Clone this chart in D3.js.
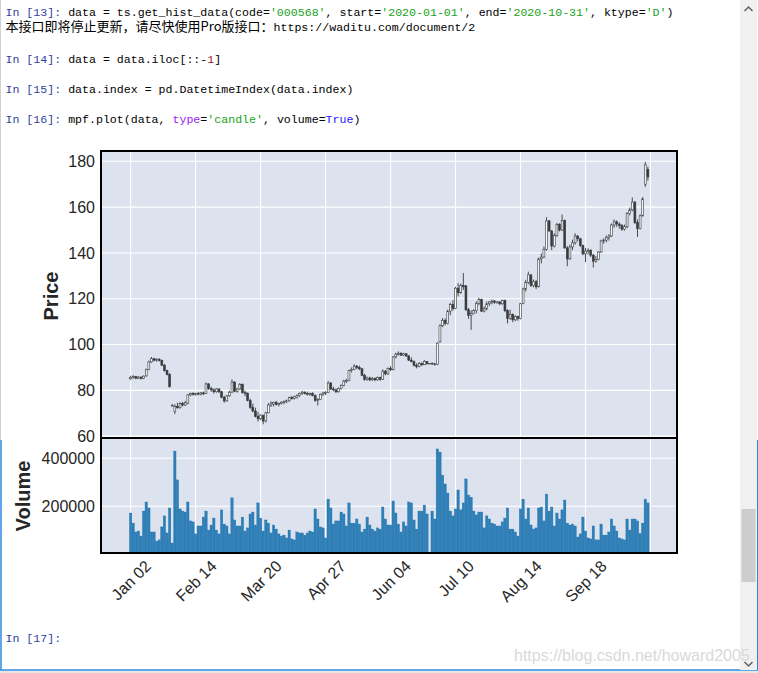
<!DOCTYPE html>
<html>
<head>
<meta charset="utf-8">
<script src="https://cdn.jsdelivr.net/npm/d3@7"></script>
<style>
  body { margin: 0; background: #fff; }
  svg { display: block; }
  text { white-space: pre; }
</style>
</head>
<body>
<svg id="nb" width="758" height="673"></svg>
<script>
// ---- data (000568, 2020-01-02 .. 2020-10-30) ----
const openP = [85.0,85.6,86.0,85.3,85.8,85.2,86.3,89.2,92.4,93.8,
  93.2,93.6,93.0,91.0,88.6,87.0,73.4,70.8,73.0,72.4,
  74.2,73.6,74.4,78.0,78.6,78.2,78.6,78.4,78.9,78.6,
  82.8,80.8,80.2,79.4,80.6,79.4,77.0,75.4,77.6,79.2,
  83.6,79.6,80.6,82.6,79.0,78.8,75.6,72.6,71.0,68.6,
  67.6,69.0,66.6,70.2,73.6,74.0,74.8,73.8,74.2,74.8,
  75.2,75.4,76.8,76.4,76.8,77.8,78.6,79.2,78.6,78.2,
  78.6,77.8,75.6,76.0,78.2,78.8,79.0,83.2,80.6,80.2,
  79.4,80.8,82.2,84.0,84.4,88.6,89.2,90.6,90.0,89.4,
  86.6,84.8,85.4,84.6,85.2,84.6,85.6,84.8,88.4,87.2,
  89.6,89.0,94.6,95.8,96.2,95.4,96.0,95.0,93.2,92.6,
  91.0,90.4,91.8,91.2,92.6,91.8,91.8,91.6,91.4,101.2,
  108.2,110.6,109.2,114.6,117.4,115.8,124.6,122.6,125.8,125.6,
  115.2,112.8,113.6,114.8,118.0,119.6,114.6,115.6,117.8,118.6,
  119.0,118.4,118.6,117.8,119.2,114.8,111.4,113.2,110.8,112.2,
  111.4,118.0,124.2,127.2,130.4,125.8,127.4,125.2,137.4,138.2,
  141.6,154.0,149.6,143.0,147.6,152.4,150.0,154.2,142.2,137.4,
  142.6,144.4,147.4,146.2,143.2,139.6,140.8,141.2,139.0,136.4,
  137.2,140.4,145.2,145.6,146.8,147.4,152.2,153.6,152.6,152.0,
  150.4,151.4,157.2,158.8,162.2,153.2,150.6,156.2,170.0,176.4];

const highP = [86.4,86.6,86.3,86.2,86.0,86.5,89.5,93.0,94.6,94.2,
  94.0,94.0,93.4,91.5,89.0,87.6,74.0,74.0,74.6,74.8,
  75.0,75.4,78.4,79.0,79.2,79.0,79.3,79.2,79.4,83.4,
  83.2,81.6,80.8,81.0,81.0,79.8,77.6,78.0,79.8,84.8,
  84.0,81.0,83.2,83.0,80.0,79.0,76.4,74.2,72.4,70.6,
  69.6,69.4,70.6,74.4,75.2,75.0,75.4,74.6,75.2,75.6,
  76.0,77.2,77.6,77.6,78.2,79.0,79.8,79.6,79.4,79.0,
  79.2,78.2,76.6,78.6,79.4,79.6,84.0,83.6,81.6,80.8,
  81.2,82.6,84.6,85.0,89.0,90.0,91.4,91.0,90.8,89.8,
  87.2,86.0,86.0,85.8,85.6,86.0,86.0,89.2,88.8,90.0,
  90.6,95.0,96.4,97.0,96.6,96.4,96.2,95.4,94.4,93.0,
  91.8,92.4,92.2,93.2,92.8,91.8,92.2,92.0,101.0,108.8,
  111.6,111.4,115.2,118.2,119.4,125.2,126.8,126.6,131.2,126.0,
  116.0,115.0,115.4,118.8,120.4,120.0,116.6,118.8,119.0,119.6,
  119.4,119.0,119.0,119.6,119.6,115.4,115.2,113.6,112.8,112.6,
  118.2,124.8,128.2,131.8,130.8,128.4,128.2,138.0,139.8,142.8,
  155.6,154.4,150.0,148.6,153.2,153.0,156.8,154.6,143.0,143.6,
  145.8,148.6,147.8,146.6,143.6,142.2,142.0,141.6,139.6,138.6,
  140.8,145.8,146.4,147.6,148.2,152.8,154.6,154.2,153.4,152.6,
  152.4,157.8,159.8,164.2,162.6,154.6,156.8,164.4,179.8,177.6];

const lowP = [84.6,85.0,84.9,85.0,84.8,84.9,86.0,88.8,92.0,92.6,
  92.5,92.6,90.6,88.2,86.5,81.2,73.4,69.6,72.0,72.0,
  73.0,73.2,74.0,77.4,77.8,77.6,77.9,77.8,77.9,78.4,
  80.2,79.4,78.6,79.0,78.8,76.6,74.6,75.0,77.2,79.0,
  79.2,79.0,80.2,78.6,77.4,75.2,72.0,70.4,68.2,66.4,
  67.0,65.2,66.0,70.0,72.8,73.0,73.4,73.0,73.8,74.0,
  74.4,75.0,76.0,76.0,76.4,77.2,78.0,78.2,77.8,77.6,
  77.4,75.0,73.4,75.8,77.6,78.0,78.8,80.2,79.6,78.8,
  79.0,80.4,81.8,83.2,84.0,87.8,88.8,89.2,88.8,86.2,
  84.2,84.2,84.0,84.2,84.0,84.2,84.2,84.6,86.6,86.8,
  88.4,88.8,94.0,95.2,95.0,95.0,94.6,92.8,92.2,90.4,
  89.6,90.0,90.6,91.0,91.2,91.8,91.2,90.8,91.0,100.8,
  107.6,108.4,108.8,112.8,114.8,115.4,121.0,122.2,123.8,114.6,
  111.2,106.4,113.2,113.6,117.2,114.2,114.0,115.0,116.8,117.6,
  117.8,117.8,117.2,117.4,114.2,109.2,110.8,109.8,110.2,110.4,
  111.0,117.6,123.2,126.4,125.2,125.0,124.2,125.0,135.4,137.8,
  141.0,149.2,141.2,142.4,147.0,149.4,149.6,141.8,134.2,137.0,
  141.2,143.6,145.0,142.6,139.0,136.0,139.4,138.2,133.6,135.8,
  136.8,140.0,144.0,144.6,145.4,147.0,151.0,151.4,150.6,149.6,
  149.8,150.8,156.4,158.2,152.6,147.0,150.2,155.8,168.8,171.6];

const closeP = [85.6,86.0,85.3,85.8,85.2,86.2,89.2,92.4,93.8,93.2,
  93.6,93.0,91.0,88.6,87.0,81.6,73.4,73.0,72.4,74.2,
  73.6,74.6,78.0,78.6,78.2,78.6,78.4,78.9,78.5,82.8,
  80.8,80.2,79.4,80.6,79.4,77.0,75.4,77.6,79.2,83.6,
  79.6,80.6,82.6,79.0,78.8,75.6,72.6,71.0,68.6,67.6,
  69.2,66.6,70.2,73.6,74.4,74.8,73.8,74.2,74.8,75.2,
  75.4,76.8,76.4,77.2,77.8,78.6,79.2,78.6,78.2,78.6,
  77.8,75.6,76.0,78.2,78.8,79.0,83.2,80.6,80.2,79.4,
  80.8,82.2,84.0,84.4,88.6,89.2,90.6,90.0,89.4,86.6,
  84.8,85.4,84.6,85.2,84.6,85.6,84.8,88.4,87.2,89.6,
  89.0,94.6,95.8,96.2,95.4,96.0,95.0,93.2,92.6,91.0,
  90.4,91.8,91.2,92.6,91.8,91.8,91.6,91.4,100.6,108.2,
  110.6,109.2,114.6,117.4,115.8,124.6,122.6,125.8,125.2,115.2,
  112.8,113.6,114.8,118.0,119.6,114.6,115.6,117.8,118.6,119.0,
  118.4,118.6,117.8,119.2,114.8,111.4,113.2,110.8,112.2,111.4,
  117.8,124.2,127.2,130.4,125.8,127.4,125.2,137.4,138.2,141.6,
  154.0,149.6,143.0,147.6,152.4,150.0,154.2,142.2,137.4,142.6,
  144.4,147.4,146.2,143.2,139.6,140.8,141.2,139.0,136.4,137.2,
  140.4,145.2,145.6,146.8,147.4,152.2,153.6,152.6,152.0,150.4,
  151.4,157.2,158.8,162.2,153.2,150.6,156.2,163.6,178.4,173.2];

const volume = [172000,130000,93000,97000,76000,180000,218000,193000,93000,93000,
  55000,60000,114000,160000,89000,193000,47000,430000,310000,189000,
  180000,176000,218000,139000,135000,85000,118000,118000,155000,180000,
  101000,122000,151000,101000,85000,185000,126000,118000,85000,235000,
  143000,118000,118000,155000,97000,110000,168000,176000,122000,214000,
  151000,97000,143000,130000,89000,122000,105000,85000,76000,80000,
  68000,101000,64000,60000,93000,89000,89000,80000,89000,97000,
  93000,189000,147000,114000,110000,68000,230000,193000,126000,139000,
  139000,176000,168000,118000,214000,130000,130000,147000,126000,93000,
  105000,155000,122000,105000,97000,110000,105000,197000,147000,122000,
  122000,222000,172000,126000,93000,135000,118000,218000,214000,143000,
  105000,180000,180000,205000,168000,0,180000,147000,439000,426000,
  330000,293000,255000,180000,160000,189000,268000,185000,214000,314000,
  247000,238000,180000,164000,176000,176000,110000,160000,147000,130000,
  126000,118000,118000,135000,151000,193000,105000,105000,93000,76000,
  189000,230000,147000,193000,122000,105000,110000,193000,197000,139000,
  251000,180000,197000,118000,172000,147000,185000,226000,130000,122000,
  126000,118000,72000,85000,155000,97000,68000,64000,118000,60000,
  60000,126000,80000,80000,93000,147000,118000,97000,68000,64000,
  60000,147000,101000,147000,147000,139000,87000,130000,230000,214000];

const xTickIdx = [0, 25, 50, 75, 100, 125, 150, 175, 200];
const xTickLabels = ["Jan 02", "Feb 14", "Mar 20", "Apr 27", "Jun 04", "Jul 10", "Aug 14", "Sep 18", ""];
const priceTicks = [60, 80, 100, 120, 140, 160, 180];
const volTicks = [200000, 400000];

// ---- page ----
const svg = d3.select("#nb");
const MONO = "'Liberation Mono', 'DejaVu Sans Mono', monospace";
const CJK = "'Noto Sans CJK SC', sans-serif";
const SANS = "'Liberation Sans', Arial, sans-serif";
const PROMPT = "#303F9F", STR = "#19a319", NUM = "#a31515", KW = "#a020f0", BOOL = "#1a1aff";

// notebook frame
svg.append("rect").attr("x", 0).attr("y", 0).attr("width", 758).attr("height", 673).attr("fill", "#fff");
svg.append("line").attr("x1", 0.5).attr("x2", 0.5).attr("y1", 0).attr("y2", 440).attr("stroke", "#cfcfcf");
svg.append("line").attr("x1", 1).attr("x2", 1).attr("y1", 440).attr("y2", 670).attr("stroke", "#2c8ae0").attr("stroke-width", 1.5);
svg.append("line").attr("x1", 0).attr("x2", 758).attr("y1", 670).attr("y2", 670).attr("stroke", "#2c8ae0").attr("stroke-width", 1.5);
svg.append("rect").attr("x", 0).attr("y", 671).attr("width", 758).attr("height", 2).attr("fill", "#e6e6e6");

// code cells
const codeLines = [
  { y: 16, parts: [["In [13]: ", PROMPT], ["data = ts.get_hist_data(code=", "#000"], ["'000568'", STR], [", start=", "#000"],
      ["'2020-01-01'", STR], [", end=", "#000"], ["'2020-10-31'", STR], [", ktype=", "#000"], ["'D'", STR], [")", "#000"]] },
  { y: 63, parts: [["In [14]: ", PROMPT], ["data = data.iloc[::-", "#000"], ["1", NUM], ["]", "#000"]] },
  { y: 93, parts: [["In [15]: ", PROMPT], ["data.index = pd.DatetimeIndex(data.index)", "#000"]] },
  { y: 123, parts: [["In [16]: ", PROMPT], ["mpf.plot(data, ", "#000"], ["type", KW], ["=", "#000"], ["'candle'", STR],
      [", volume=", "#000"], ["True", BOOL], [")", "#000"]] },
  { y: 642, parts: [["In [17]:", PROMPT]] }
];
codeLines.forEach(line => {
  const t = svg.append("text").attr("x", 5.5).attr("y", line.y)
    .attr("font-family", MONO).attr("font-size", 11.6);
  line.parts.forEach(p => t.append("tspan").attr("fill", p[1]).text(p[0]));
});

// printed warning line (mixed CJK / latin)
const warn = svg.append("text").attr("x", 5.5).attr("y", 31).attr("fill", "#000");
[["本接口即将停止更新，请尽快使用Pro版接口：", CJK, 13], ["https://waditu.com/document/2", MONO, 11.6]]
  .forEach(p => warn.append("tspan").attr("font-family", p[1]).attr("font-size", p[2]).text(p[0]));

// scrollbar
svg.append("rect").attr("x", 740).attr("y", 0).attr("width", 17).attr("height", 670).attr("fill", "#f0f0f0");
svg.append("rect").attr("x", 741.5).attr("y", 509).attr("width", 14).attr("height", 73).attr("fill", "#cdcdcd");
svg.append("path").attr("d", "M744.5,11 L748.5,7 L752.5,11").attr("fill", "none").attr("stroke", "#606060").attr("stroke-width", 1.5);
svg.append("path").attr("d", "M744.5,662 L748.5,666 L752.5,662").attr("fill", "none").attr("stroke", "#606060").attr("stroke-width", 1.5);
svg.append("line").attr("x1", 757.5).attr("x2", 757.5).attr("y1", 440).attr("y2", 670).attr("stroke", "#2c8ae0");

// ---- chart ----
const plotL = 101, plotR = 677, plotT = 151, plotMid = 438, plotB = 553;

const x = d3.scaleLinear().domain([-11.4, 210.2]).range([plotL, plotR]);
const yP = d3.scaleLinear().domain([59.2, 184.5]).range([plotMid, plotT]);
const yV = d3.scaleLinear().domain([5400, 484600]).range([plotB, plotMid]);

const chart = svg.append("g").attr("class", "chart");

// panel faces
chart.append("rect").attr("x", plotL).attr("y", plotT).attr("width", plotR - plotL).attr("height", plotB - plotT).attr("fill", "#DCE3EF");

// grid
const grid = chart.append("g").attr("class", "grid").attr("stroke", "#fff").attr("stroke-width", 1.1);
grid.selectAll("line.gx").data(xTickIdx).join("line").attr("class", "gx")
  .attr("x1", d => x(d)).attr("x2", d => x(d)).attr("y1", plotT).attr("y2", plotB);
grid.selectAll("line.gp").data(priceTicks).join("line").attr("class", "gp")
  .attr("x1", plotL).attr("x2", plotR).attr("y1", d => yP(d)).attr("y2", d => yP(d));
grid.selectAll("line.gv").data(volTicks).join("line").attr("class", "gv")
  .attr("x1", plotL).attr("x2", plotR).attr("y1", d => yV(d)).attr("y2", d => yV(d));

// candles
const idx = d3.range(closeP.length);
const bodyW = 1.9;
const candles = chart.append("g").attr("class", "candles").attr("opacity", 0.8);
candles.selectAll("line").data(idx).join("line")
  .attr("x1", i => x(i)).attr("x2", i => x(i))
  .attr("y1", i => yP(highP[i])).attr("y2", i => yP(lowP[i]))
  .attr("stroke", "#111").attr("stroke-width", 0.9);
candles.selectAll("rect").data(idx).join("rect")
  .attr("x", i => x(i) - bodyW / 2)
  .attr("width", bodyW)
  .attr("y", i => yP(Math.max(openP[i], closeP[i])))
  .attr("height", i => Math.max(0.7, Math.abs(yP(openP[i]) - yP(closeP[i]))))
  .attr("fill", i => closeP[i] >= openP[i] ? "#fff" : "#111")
  .attr("stroke", "#111").attr("stroke-width", 0.6);

// volume bars
const barW = 2.4;
chart.append("g").attr("class", "volume")
  .selectAll("rect").data(idx.filter(i => volume[i] > 0)).join("rect")
  .attr("x", i => x(i) - barW / 2)
  .attr("width", barW)
  .attr("y", i => yV(volume[i]))
  .attr("height", i => plotB - yV(volume[i]))
  .attr("fill", "#1f77b4").attr("fill-opacity", 0.92)
  .attr("stroke", "#1f6fa8").attr("stroke-width", 0.35);

// frames
chart.append("rect").attr("x", plotL).attr("y", plotT).attr("width", plotR - plotL).attr("height", plotB - plotT)
  .attr("fill", "none").attr("stroke", "#000").attr("stroke-width", 2);
chart.append("line").attr("x1", plotL).attr("x2", plotR).attr("y1", plotMid).attr("y2", plotMid)
  .attr("stroke", "#000").attr("stroke-width", 2);

// axes
function styleAxis(g) {
  g.select(".domain").remove();
  g.selectAll("text").attr("font-family", SANS).attr("font-size", 16).attr("fill", "#262626");
}
chart.append("g").attr("class", "y axis price")
  .attr("transform", `translate(${plotL},0)`)
  .call(d3.axisLeft(yP).tickValues(priceTicks).tickSize(0).tickPadding(6))
  .call(styleAxis);
chart.append("g").attr("class", "y axis vol")
  .attr("transform", `translate(${plotL},0)`)
  .call(d3.axisLeft(yV).tickValues(volTicks).tickSize(0).tickPadding(6).tickFormat(d3.format("d")))
  .call(styleAxis);

const xAxis = chart.append("g").attr("class", "x axis")
  .attr("transform", `translate(0,${plotB})`)
  .call(d3.axisBottom(x).tickValues(xTickIdx).tickSize(0).tickFormat((d, i) => xTickLabels[i]))
  .call(styleAxis);
xAxis.selectAll("text")
  .attr("text-anchor", "middle").attr("y", 0).attr("dy", "0.35em")
  .attr("transform", function () {
    const w = this.getComputedTextLength();
    return `translate(0,${6 + (w + 12) * 0.3536}) rotate(-45)`;
  });

// axis titles
chart.append("text").attr("transform", "translate(58,296) rotate(-90)")
  .attr("text-anchor", "middle").attr("font-family", SANS).attr("font-weight", "bold")
  .attr("font-size", 20).attr("fill", "#262626").text("Price");
chart.append("text").attr("transform", "translate(30,496) rotate(-90)")
  .attr("text-anchor", "middle").attr("font-family", SANS).attr("font-weight", "bold")
  .attr("font-size", 20).attr("fill", "#262626").text("Volume");

// watermark
svg.append("text").attr("x", 514).attr("y", 661).attr("font-family", SANS).attr("font-size", 16)
  .attr("fill", "#d9d9d9").text("https://blog.csdn.net/howard2005");
</script>
</body>
</html>
